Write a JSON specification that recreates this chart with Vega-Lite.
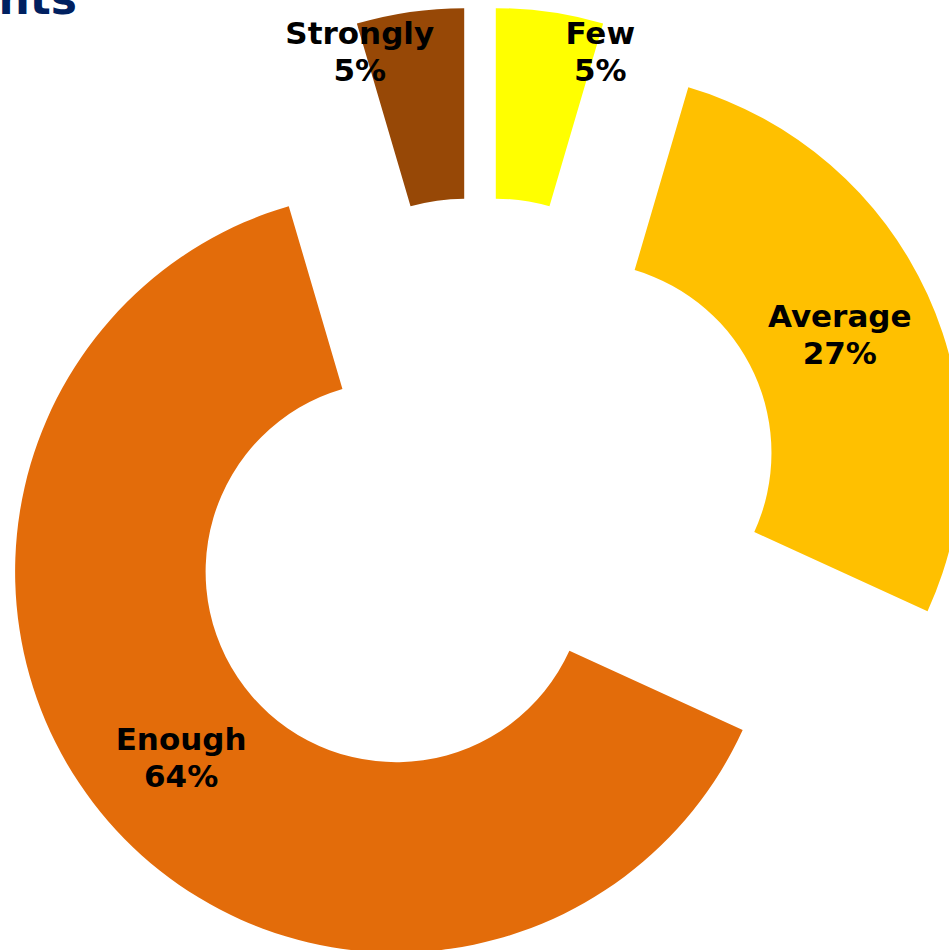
{
  "$schema": "https://vega.github.io/schema/vega-lite/v6.json",
  "width": 949,
  "height": 950,
  "autosize": {"type": "none"},
  "padding": 0,
  "background": "white",
  "config": {"view": {"stroke": null}},
  "title": {
    "text": "Students",
    "anchor": "start",
    "align": "left",
    "baseline": "alphabetic",
    "dx": -147,
    "dy": 29,
    "offset": -29,
    "font": "DejaVu Sans",
    "fontSize": 44,
    "fontWeight": "bold",
    "color": "#002060"
  },
  "data": {
    "values": [
      {"category": "Few", "count": 1},
      {"category": "Average", "count": 6},
      {"category": "Enough", "count": 14},
      {"category": "Strongly", "count": 1}
    ]
  },
  "transform": [
    {"joinaggregate": [{"op": "sum", "field": "count", "as": "total"}]},
    {"window": [{"op": "sum", "field": "count", "as": "cum"}], "frame": [null, 0]},
    {"calculate": "(datum.cum - datum.count) / datum.total", "as": "start"},
    {"calculate": "datum.cum / datum.total", "as": "end"},
    {"calculate": "PI * (datum.start + datum.end)", "as": "mid"},
    {"calculate": "sin(datum.mid)", "as": "ex"},
    {"calculate": "cos(datum.mid)", "as": "ey"},
    {"calculate": "datum.count / datum.total < 0.1 ? (datum.mid < PI ? datum.mid + 0.12 : datum.mid - 0.12) : datum.mid", "as": "la"},
    {"calculate": "datum.count / datum.total < 0.1 ? 4.17 : 3.563", "as": "lr"},
    {"calculate": "datum.lr * sin(datum.la)", "as": "lx"},
    {"calculate": "datum.lr * cos(datum.la)", "as": "ly"},
    {"calculate": "[datum.category, format(datum.count / datum.total, '.0%')]", "as": "label"}
  ],
  "layer": [
    {
      "mark": {"type": "arc", "outerRadius": 381, "innerRadius": 190.5},
      "encoding": {
        "theta": {"field": "start", "type": "quantitative", "stack": null, "scale": {"domain": [0, 1], "range": [0, 6.283185307179586]}},
        "theta2": {"field": "end"},
        "x": {"field": "ex", "type": "quantitative", "scale": {"domain": [-4.3243, 4.2252], "nice": false, "zero": false}, "axis": null},
        "y": {"field": "ey", "type": "quantitative", "scale": {"domain": [-4.063, 4.4955], "nice": false, "zero": false}, "axis": null},
        "color": {
          "field": "category",
          "type": "nominal",
          "scale": {"domain": ["Few", "Average", "Enough", "Strongly"], "range": ["#FFFF00", "#FFC000", "#E36C0A", "#974806"]},
          "legend": null
        }
      }
    },
    {
      "mark": {"type": "text", "font": "DejaVu Sans", "fontWeight": "bold", "fontSize": 31, "lineHeight": 37, "align": "center", "baseline": "middle", "dy": -17, "fill": "#000000"},
      "encoding": {
        "x": {"field": "lx", "type": "quantitative", "scale": {"domain": [-4.3243, 4.2252], "nice": false, "zero": false}, "axis": null},
        "y": {"field": "ly", "type": "quantitative", "scale": {"domain": [-4.063, 4.4955], "nice": false, "zero": false}, "axis": null},
        "text": {"field": "label"}
      }
    }
  ]
}
